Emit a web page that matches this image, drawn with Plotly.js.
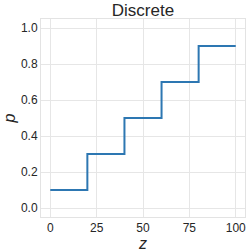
<!DOCTYPE html>
<html><head><meta charset="utf-8">
<script src="https://cdn.plot.ly/plotly-3.0.1.min.js"></script>
<style>html,body{margin:0;padding:0;background:#fff}#chart{width:249px;height:252px}</style>
</head><body><div id="chart"></div>
<script>
const zValues = [0, 20, 40, 60, 80, 100];
const pValues = [0.1, 0.3, 0.5, 0.7, 0.9, 0.9];
const xTicks = [0, 25, 50, 75, 100];
const yTicks = [0.0, 0.2, 0.4, 0.6, 0.8, 1.0];
const yTickLabels = ['0.0', '0.2', '0.4', '0.6', '0.8', '1.0'];
const titleText = 'Discrete';

const font = 'Liberation Sans, Arial, sans-serif';
const trace = {
  x: zValues, y: pValues, type: 'scatter', mode: 'lines',
  line: {shape: 'hv', color: '#2d77b2', width: 2}, hoverinfo: 'skip'
};
const layout = {
  width: 249, height: 252,
  margin: {l: 41, r: 4, t: 19, b: 35},
  paper_bgcolor: '#fff', plot_bgcolor: '#fff',
  showlegend: false,
  title: {text: titleText, x: 0.5, xref: 'paper', y: 0.985, yref: 'container', yanchor: 'top',
          font: {family: font, size: 17, color: '#262626'}},
  xaxis: {range: [-5, 105], tickvals: xTicks, ticktext: xTicks.map(String),
          showgrid: true, gridcolor: '#e6e6e6', gridwidth: 1, zeroline: false,
          showline: true, linecolor: '#e3e3e3', linewidth: 1, mirror: true,
          ticks: '', tickfont: {family: font, size: 12, color: '#262626'},
          title: {text: '<i>z</i>', font: {family: font, size: 16, color: '#262626'}, standoff: 0}},
  yaxis: {range: [-0.05, 1.05], tickvals: yTicks, ticktext: yTickLabels,
          showgrid: true, gridcolor: '#e6e6e6', gridwidth: 1, zeroline: false,
          showline: true, linecolor: '#e3e3e3', linewidth: 1, mirror: true,
          ticks: '', tickfont: {family: font, size: 12, color: '#262626'},
          title: {text: '<i>p</i>', font: {family: font, size: 16, color: '#262626'}, standoff: 1}}
};
Plotly.newPlot('chart', [trace], layout, {staticPlot: true, displayModeBar: false});
</script></body></html>
